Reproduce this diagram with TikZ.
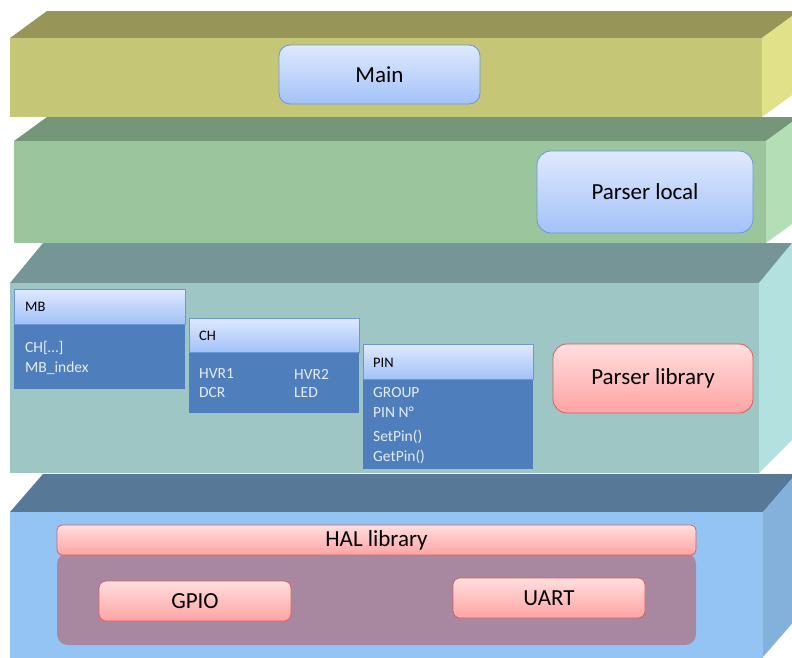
\documentclass[tikz,border=0pt]{standalone}
\usepackage{fontspec}
\setmainfont{Carlito}
\definecolor{yTop}{HTML}{979557}
\definecolor{yFront}{HTML}{C6C677}
\definecolor{ySide}{HTML}{E1E18A}
\definecolor{gTop}{HTML}{76967A}
\definecolor{gFront}{HTML}{9BC59D}
\definecolor{gSide}{HTML}{B3DEB6}
\definecolor{tTop}{HTML}{769596}
\definecolor{tFront}{HTML}{9DC6C5}
\definecolor{tSide}{HTML}{B3E1DF}
\definecolor{bTop}{HTML}{587898}
\definecolor{bFront}{HTML}{94C4F4}
\definecolor{bSide}{HTML}{84B0DC}
\definecolor{blueHi}{HTML}{DFE9FE}
\definecolor{blueLo}{HTML}{A3C2F8}
\definecolor{blueEdge}{HTML}{6A96D6}
\definecolor{redHi}{HTML}{FFDEDE}
\definecolor{redLo}{HTML}{FFA3A3}
\definecolor{redEdge}{HTML}{D45F5F}
\definecolor{classBody}{HTML}{4E7EBB}
\definecolor{classText}{HTML}{E6EDF6}
\definecolor{purpleArea}{HTML}{A888A0}
\tikzset{
  bluebox/.style={draw=blueEdge, line width=0.8pt, top color=blueHi, bottom color=blueLo, rounded corners=11pt, inner sep=0pt, font=\fontsize{23}{27}\selectfont},
  redbox/.style={draw=redEdge, line width=0.8pt, top color=redHi, bottom color=redLo, rounded corners=#1, inner sep=0pt, font=\fontsize{23}{27}\selectfont},
  redbox/.default=12pt,
  classhead/.style={draw=blueEdge, line width=0.8pt, top color=blueHi, bottom color=blueLo, inner sep=0pt},
  classbody/.style={fill=classBody, inner sep=0pt},
  headtext/.style={anchor=west, inner sep=0pt, font=\fontsize{14.5}{17}\selectfont},
  bodytext/.style={anchor=west, inner sep=0pt, text=classText, font=\fontsize{15.5}{18}\selectfont},
}
\begin{document}
\begin{tikzpicture}[x=1pt, y=-1pt]
\useasboundingbox (0,0) rectangle (792,657);
\clip (0,0) rectangle (792,657);
% ---- layer 4 (blue, HAL)
\fill[bTop] (10,512) -- (43,474) -- (796,474) -- (763,512) -- cycle;
\fill[bSide] (763,512) -- (796,474) -- (796,619) -- (763,657) -- cycle;
\fill[bFront] (10,512) rectangle (763,660);
% ---- layer 3 (teal, parser library)
\fill[tTop] (10,283) -- (43,243) -- (799,243) -- (759,283) -- cycle;
\fill[tSide] (759,283) -- (792,243) -- (792,440) -- (759,473) -- cycle;
\fill[tFront] (10,283) rectangle (759,473);
% ---- layer 2 (green, parser local)
\fill[gTop] (14,141) -- (47,117) -- (799,117) -- (766,141) -- cycle;
\fill[gSide] (766,141) -- (799,117) -- (799,219) -- (766,243) -- cycle;
\fill[gFront] (14,141) rectangle (766,243);
% ---- layer 1 (yellow, main)
\fill[yTop] (10,38) -- (47,11) -- (799,11) -- (762,38) -- cycle;
\fill[ySide] (762,38) -- (799,11) -- (799,90) -- (762,117) -- cycle;
\fill[yFront] (10,38) rectangle (762,117);

% ---- components
\node[bluebox, minimum width=201pt, minimum height=59pt] (main) at (379.5,74.5) {Main};
\node[bluebox, rounded corners=14pt, minimum width=216pt, minimum height=82pt] (plocal) at (645,192) {Parser local};
\node[redbox=14pt, minimum width=200pt, minimum height=69pt] (plib) at (653,378.5) {Parser library};

% MB class
\node[classbody, minimum width=171pt, minimum height=65pt] (mbbody) at (99.5,356.5) {};
\node[classhead, minimum width=171pt, minimum height=35pt] (mbhead) at (99.5,306.5) {};
\node[headtext] (mbname) at (25,307) {MB};
\node[bodytext] (mbch) at (25,348) {CH[…]};
\node[bodytext] (mbidx) at (25,368) {MB\_index};

% CH class
\node[classbody, minimum width=170pt, minimum height=61pt] (chbody) at (274,382.5) {};
\node[classhead, minimum width=170pt, minimum height=34pt] (chhead) at (274,335) {};
\node[headtext] (chname) at (199,336) {CH};
\node[bodytext] (hvra) at (199,374) {HVR1};
\node[bodytext] (hvrb) at (294,374) {HVR2};
\node[bodytext] (dcr) at (199,393) {DCR};
\node[bodytext] (led) at (294,393) {LED};

% PIN class
\node[classbody, minimum width=170pt, minimum height=90pt] (pinbody) at (448,424) {};
\node[classhead, minimum width=170pt, minimum height=35pt] (pinhead) at (448,361.5) {};
\node[headtext] (pinname) at (373,363) {PIN};
\node[bodytext] (group) at (373,393) {GROUP};
\node[bodytext] (pinn) at (373,412) {PIN N°};
\node[bodytext] (setpin) at (373,437) {SetPin()};
\node[bodytext] (getpin) at (373,457) {GetPin()};

% HAL
\node[fill=purpleArea, rounded corners=11pt, minimum width=639pt, minimum height=92pt, inner sep=0pt] (area) at (376.5,599) {};
\node[redbox=5pt, minimum width=639pt, minimum height=30pt] (hal) at (376.5,540) {HAL library};
\node[redbox=7pt, minimum width=192pt, minimum height=40pt] (gpio) at (195,601) {GPIO};
\node[redbox=7pt, minimum width=192pt, minimum height=40pt] (uart) at (549,598) {UART};
\end{tikzpicture}
\end{document}
